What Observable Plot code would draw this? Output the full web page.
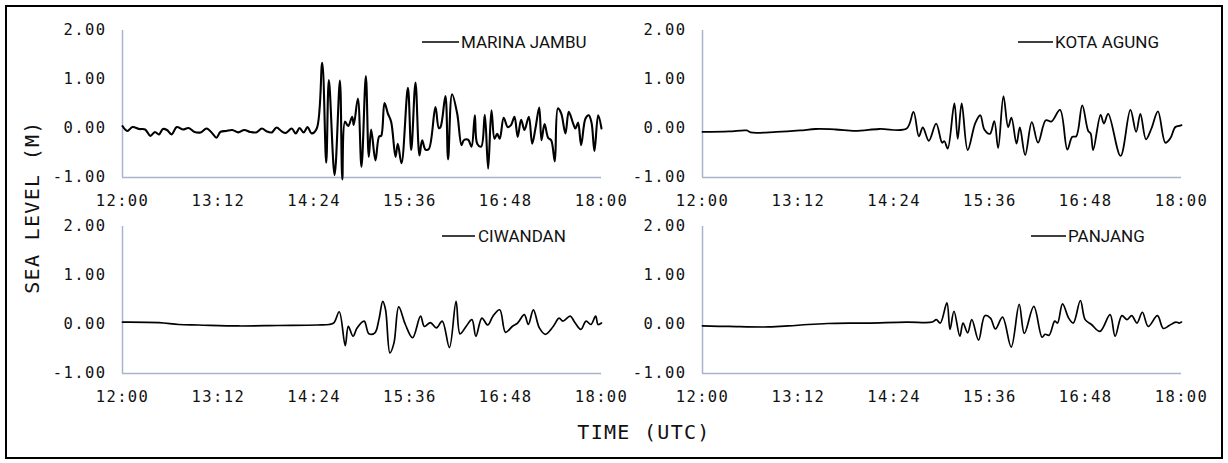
<!DOCTYPE html>
<html>
<head>
<meta charset="utf-8">
<script src="https://cdn.jsdelivr.net/npm/d3@7"></script>
<script src="https://cdn.jsdelivr.net/npm/@observablehq/plot@0.6"></script>
<style>
  html, body { margin: 0; padding: 0; background: #fff; }
  #wrap { position: relative; width: 1228px; height: 463px; overflow: hidden; background: #fff; }
  #frame { position: absolute; left: 5px; top: 5px; width: 1218px; height: 454px; box-sizing: border-box; border: 2px solid #000; }
  .panel { position: absolute; }
  .panel svg text { letter-spacing: 1.4px; }
  .ttl { position: absolute; font-family: "DejaVu Sans Mono", monospace; font-size: 20px; letter-spacing: 1.3px; color: #111; white-space: nowrap; line-height: 1; }
</style>
</head>
<body>
<div id="wrap">
  <div id="frame"></div>
</div>
<script>
// ---- tick definitions (minutes after 12:00 UTC) ----
const xTicks = [0, 72, 144, 216, 288, 360];
const xTickLabels = ["12:00", "13:12", "14:24", "15:36", "16:48", "18:00"];
const yTicks = [-1, 0, 1, 2];
const yTickLabels = ["-1.00", "0.00", "1.00", "2.00"];

const stations = ["MARINA JAMBU", "KOTA AGUNG", "CIWANDAN", "PANJANG"];

// ---- MARINA JAMBU ----
const marinaTime = [0,3.6,7.5,12.5,17,20.9,24.4,27.4,30.4,33.4,36.9,40.8,45.3,49.7,54.2,58.7,63.2,67.6,70.6,73.6,78,82.5,87,91.5,95.9,100.4,104.8,108.4,112.2,115.8,119.7,122.7,127.2,130.2,133.1,136.1,139.1,142.1,146,
150.1,153.1,155.1,159.4,163.4,165.2,167.2,169.6,172.6,173.8,176.9,179.6,182.9,185.1,186.9,190.1,192.9,194.4,196.9,199.4,201.9,205.2,206.9,209.7,214.5,217,220.2,223.2,225.2,227.7,230.2,235.2,237.7,239,242.7,244.7,247.7,251.5,254.8,256.5,259.8,262.3,264.8,266.6,269.6,272.3,274.8,277.3,279.6,281.6,283.5,286.5,289.5,292,294.6,297,299.6,302.1,305.4,307.9,310.4,313.2,314.9,317.2,319.9,322.2,324.9,327.2,329.7,332.9,335.4,338.7,340.4,342.4,344.7,347.9,350.4,352.5,354.7,357.5,360];
const marinaLevel = [0.05,-0.05,0.03,-0.01,-0.02,-0.15,-0.07,-0.12,-0.01,-0.03,-0.12,0.03,-0.02,0.01,-0.07,-0.08,0.00,-0.10,-0.19,-0.07,-0.05,-0.03,-0.08,-0.03,-0.07,-0.08,0.00,-0.06,-0.08,0.02,-0.06,-0.09,0.00,-0.10,0.01,-0.08,0.03,-0.10,0.00,
1.34,-0.70,0.99,-0.95,0.98,-1.04,0.14,0.05,0.24,0.07,0.61,-0.78,1.07,-0.58,-0.02,-0.65,-0.16,-0.15,0.52,0.31,0.14,-0.58,-0.31,-0.71,0.83,-0.44,0.94,-0.55,-0.24,-0.43,-0.42,0.44,0.01,0.03,0.66,-0.63,0.70,0.31,-0.34,-0.24,-0.23,-0.37,0.27,-0.31,-0.37,0.28,-0.82,0.37,-0.21,-0.11,-0.21,0.22,0.03,0.07,0.24,-0.17,0.18,-0.03,0.24,-0.31,0.01,0.43,-0.24,0.09,-0.19,-0.24,-0.67,0.41,0.31,-0.10,0.34,0.10,0.00,0.12,-0.34,0.20,0.27,0.12,-0.46,0.27,0.00];

// ---- KOTA AGUNG ----
const kotaTime = [0,19.9,33.3,36.2,55.5,73.3,85.2,100,114.8,132.7,153.4,158.6,162.6,165.6,170.1,175.6,180.1,181.8,184.3,189.3,191.8,194.8,199.3,205,208.8,211.8,216,219.3,222.2,226.2,229.7,232.2,236,238.5,242.5,247.5,252.2,258,262.2,268.7,274.2,277.9,280.9,285.4,289.9,291.7,293.6,299.2,301.7,304.9,314.2,321.6,325.9,329.1,333.3,337.4,342.3,347.9,351.6,355.4,359.1,360];
const kotaLevel = [-0.07,-0.06,-0.04,-0.08,-0.07,-0.04,-0.01,-0.02,-0.05,-0.01,0.00,0.34,-0.16,0.02,-0.25,0.10,-0.29,-0.26,-0.41,0.51,-0.21,0.51,-0.44,0.11,0.27,-0.02,-0.11,0.15,-0.40,0.66,0.03,0.22,-0.31,0.02,-0.54,0.13,-0.29,0.17,0.14,0.38,-0.43,-0.17,-0.16,0.47,-0.05,-0.10,-0.44,0.28,0.10,0.30,-0.56,0.38,-0.07,0.30,-0.22,0.00,0.35,-0.29,-0.20,0.03,0.06,0.07];

// ---- CIWANDAN ----
const ciwandanTime = [0,27.4,42.3,57.2,87,116.7,146.5,155.4,159,162.9,167.4,169.7,173.3,176.3,181.6,185.2,189.7,192.7,195.6,197.7,201,204,207.6,212.6,218,224,226.9,231.4,235.9,240.3,245.7,250.7,253.7,258.2,262.6,265.6,270.1,274.5,278.4,283.5,287.9,292.9,296.9,302,305,308.8,313.3,317.7,323.7,328.1,331,336.5,340,344.5,348.4,352,355.6,357.4,360];
const ciwandanLevel = [0.05,0.04,0.00,-0.01,-0.03,-0.02,-0.01,0.00,0.04,0.26,-0.43,-0.04,-0.24,-0.07,0.07,-0.19,-0.17,0.10,0.47,0.30,-0.58,-0.38,0.36,0.00,-0.27,0.17,-0.04,0.04,-0.07,0.07,-0.47,0.47,-0.19,-0.04,0.10,-0.24,0.13,-0.01,0.17,0.30,-0.16,-0.04,0.03,0.20,0.00,0.30,-0.07,-0.20,-0.04,0.13,0.07,0.17,0.04,-0.10,0.07,0.00,0.17,0.00,0.03];

// ---- PANJANG ----
const panjangTime = [0,19.9,49.6,64.4,79.3,94.1,123.8,153.4,172.7,175.7,178.7,183.7,186,189,193.4,195.8,199.3,202.4,207.5,212.2,216.4,220.2,225.5,232,238,241.9,249,255.2,257.5,260.5,264.7,266.8,270.6,275.2,278.7,284,287.6,292.3,298.8,306.3,310.1,315.2,319.1,322.6,326.5,330.6,335,341.9,346.3,350.8,355.8,358.2,360];
const panjangLevel = [-0.03,-0.04,-0.05,-0.03,0.00,0.02,0.03,0.05,0.05,0.10,0.03,0.44,-0.10,0.27,-0.24,0.03,-0.17,0.10,-0.32,0.18,0.13,-0.09,0.15,-0.46,0.41,-0.18,0.37,-0.26,-0.20,-0.22,0.07,0.03,0.42,0.13,0.03,0.49,0.10,0.00,-0.14,0.20,-0.24,0.18,0.10,0.18,0.03,0.25,-0.04,0.18,-0.08,-0.02,0.05,0.03,0.05];

const seriesTimes = [marinaTime, kotaTime, ciwandanTime, panjangTime];
const seriesLevels = [marinaLevel, kotaLevel, ciwandanLevel, panjangLevel];

// ---- layout / style (not data) ----
const panelPos = [
  {left: 42, top: 20, lw: 2.1, legend: {x1: 380, x2: 417, tx: 419, y: 22}},
  {left: 622, top: 20, lw: 1.8, legend: {x1: 396, x2: 431, tx: 433, y: 22}},
  {left: 42, top: 216, lw: 1.7, legend: {x1: 400, x2: 433, tx: 436, y: 20}},
  {left: 622, top: 216, lw: 1.7, legend: {x1: 409, x2: 444, tx: 446, y: 20}}
];
const axisColor = "#a7b5cc";
const wrap = document.getElementById("wrap");

stations.forEach((name, i) => {
  const data = seriesTimes[i].map((t, j) => ({t, v: seriesLevels[i][j]}));
  const p = panelPos[i];
  const chart = Plot.plot({
    width: 589, height: 197,
    marginLeft: 80, marginRight: 30, marginTop: 10, marginBottom: 40,
    x: {domain: [0, 360]},
    y: {domain: [-1, 2]},
    style: {fontFamily: "'DejaVu Sans Mono', monospace", fontSize: "15.5px", color: "#111", background: "transparent", overflow: "visible"},
    marks: [
      Plot.axisX({ticks: xTicks, tickFormat: d => xTickLabels[xTicks.indexOf(d)], tickSize: 0, tickPadding: 17, label: null}),
      Plot.axisY({ticks: yTicks, tickFormat: d => yTickLabels[yTicks.indexOf(d)], tickSize: 0, tickPadding: 16, label: null}),
      Plot.ruleX([0], {y1: -1, y2: 2, stroke: axisColor, strokeWidth: 1.5}),
      Plot.ruleY([-1], {x1: 0, x2: 360, stroke: axisColor, strokeWidth: 1.5}),
      Plot.line(data, {x: "t", y: "v", curve: "catmull-rom", stroke: "#000", strokeWidth: p.lw})
    ]
  });
  const div = document.createElement("div");
  div.className = "panel";
  div.style.left = p.left + "px";
  div.style.top = p.top + "px";
  div.appendChild(chart);
  wrap.appendChild(div);
  const svg = d3.select(chart);
  const g = svg.append("g");
  g.append("line").attr("x1", p.legend.x1).attr("x2", p.legend.x2).attr("y1", p.legend.y).attr("y2", p.legend.y)
    .attr("stroke", "#000").attr("stroke-width", 1.6);
  g.append("text").attr("x", p.legend.tx).attr("y", p.legend.y).attr("dy", "0.36em")
    .attr("text-anchor", "start")
    .style("font-family", "Roboto, sans-serif").style("font-size", "17px").style("letter-spacing", "0px")
    .attr("fill", "#111").text(name);
});

// axis titles
const yt = document.createElement("div");
yt.className = "ttl";
yt.textContent = "SEA LEVEL (M)";
yt.style.left = "32px";
yt.style.top = "207px";
yt.style.transform = "translate(-50%, -50%) rotate(-90deg)";
wrap.appendChild(yt);

const xt = document.createElement("div");
xt.className = "ttl";
xt.textContent = "TIME (UTC)";
xt.style.left = "644px";
xt.style.top = "432px";
xt.style.transform = "translate(-50%, -50%)";
wrap.appendChild(xt);
</script>
</body>
</html>
